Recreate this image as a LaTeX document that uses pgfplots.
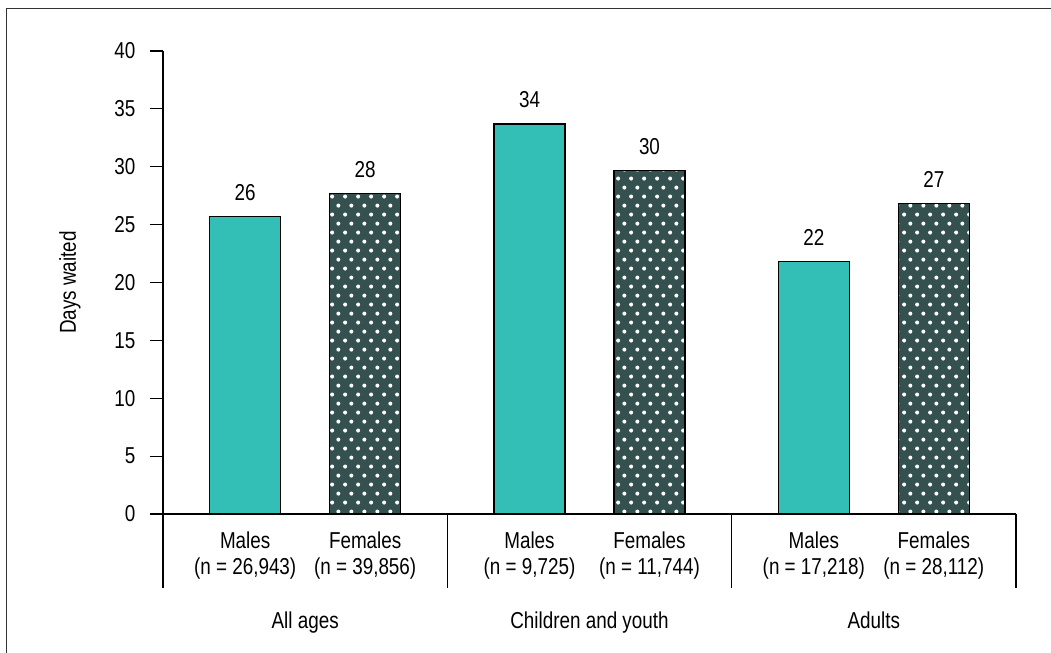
\documentclass[border=0pt]{standalone}
\usepackage{pgfplots}
\pgfplotsset{compat=1.18}
\usepackage{fontspec}
\setmainfont{Liberation Sans}[FakeStretch=0.82]
\usetikzlibrary{patterns.meta}
\definecolor{tealbar}{HTML}{33BEB6}
\definecolor{darkbar}{HTML}{345150}
\pgfdeclarepattern{
  name=sdots,
  type=uncolored,
  bottom left={\pgfpoint{0pt}{0pt}},
  top right={\pgfpoint{6.6pt}{9.2pt}},
  tile size={\pgfpoint{6.6pt}{9.2pt}},
  code={
    \pgfpathcircle{\pgfpoint{1.65pt}{2.3pt}}{1.05pt}
    \pgfpathcircle{\pgfpoint{4.95pt}{6.9pt}}{1.05pt}
    \pgfusepath{fill}
  }
}
\newcommand\lbl{\fontsize{11.5}{13}\selectfont}
\begin{document}
\begin{tikzpicture}
\begin{axis}[
  at={(0,0)}, anchor=south west,
  width=426.5pt, height=231.5pt, scale only axis,
  xmin=0, xmax=6, ymin=0, ymax=40,
  axis x line=bottom, axis y line=left,
  axis line style={-, line width=0.6pt},
  ytick={0,5,...,40},
  tick align=outside, major tick length=6.5pt,
  tick style={black, line width=0.6pt},
  xtick={0.578,1.422,2.578,3.422,4.578,5.422},
  xticklabels={{Males\\(n = 26,943)},{Females\\(n = 39,856)},{Males\\(n = 9,725)},{Females\\(n = 11,744)},{Males\\(n = 17,218)},{Females\\(n = 28,112)}},
  xtick style={draw=none},
  xticklabel style={align=center, font=\lbl, yshift=1pt},
  yticklabel style={font=\lbl, xshift=-3.8pt},
  /pgf/number format/assume math mode=true,
  clip=false,
  nodes near coords, point meta=explicit symbolic,
  nodes near coords style={font=\lbl, yshift=4.3pt},
]
\addplot[ybar, bar shift=0pt, bar width=0.5, fill=tealbar, draw=black, line width=0.7pt]
  coordinates {(0.578,25.7)[26] (2.578,33.7)[34] (4.578,21.8)[22]};
\addplot[ybar, bar shift=0pt, bar width=0.5, fill=darkbar, draw=black, line width=0.7pt,
  postaction={pattern=sdots, pattern color=white}]
  coordinates {(1.422,27.7)[28] (3.422,29.7)[30] (5.422,26.8)[27]};
\draw[line width=0.6pt] (axis cs:0,0) -- ++(0pt,-37pt);
\draw[line width=0.6pt] (axis cs:2,0) -- ++(0pt,-37pt);
\draw[line width=0.6pt] (axis cs:4,0) -- ++(0pt,-37pt);
\draw[line width=0.6pt] (axis cs:6,0) -- ++(0pt,-37pt);
\node[font=\lbl, anchor=base, yshift=-57pt] at (axis cs:1,0) {All ages};
\node[font=\lbl, anchor=base, yshift=-57pt] at (axis cs:3,0) {Children and youth};
\node[font=\lbl, anchor=base, yshift=-57pt] at (axis cs:5,0) {Adults};
\end{axis}
\node[rotate=90, font=\lbl] at (-46.5pt,115.75pt) {Days waited};
\draw[line width=0.5pt, black!80] (-78pt,-69.5pt) -- (-78pt,252.5pt) -- (444pt,252.5pt);
\pgfresetboundingbox
\useasboundingbox (-81.5pt,-69.5pt) rectangle (444pt,257pt);
\end{tikzpicture}
\end{document}
